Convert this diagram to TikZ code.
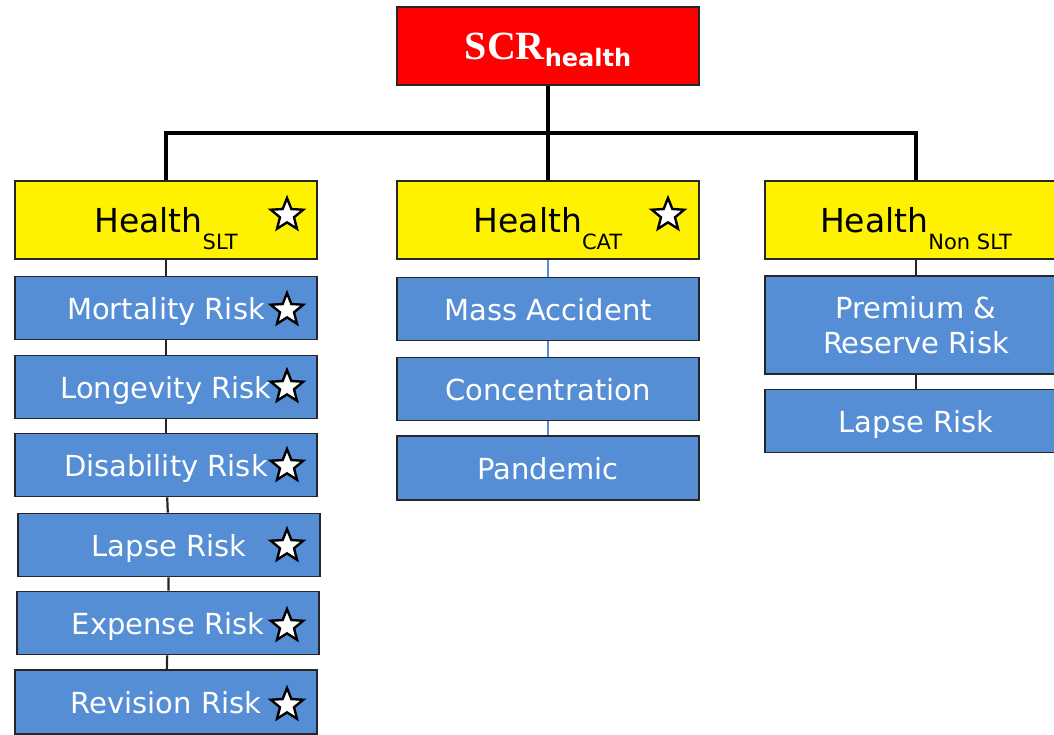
\documentclass[tikz,border=0pt]{standalone}
\usepackage{fontspec}
\setmainfont{DejaVu Sans}
\newfontfamily\titlefont{Liberation Serif}
\usepackage{tikz}
\usetikzlibrary{shapes.geometric}
\definecolor{riskblue}{RGB}{85,142,213}
\newcommand{\sub}[1]{\raisebox{-0.5em}{\fontsize{21}{21}\selectfont #1}}

\begin{document}
\begin{tikzpicture}[x=1pt, y=-1pt]
	\tikzset{box/.style = {shape=rectangle, draw=black!85, line width=1.8pt, minimum width=302pt, minimum height=63pt, inner sep=0pt}}
	\tikzset{root/.style = {box, fill=red, minimum height=78pt, text=white, text depth=0pt}}
	\tikzset{head/.style = {box, fill=yellow, minimum height=78pt, text depth=0pt, font=\fontsize{33}{36}\selectfont}}
	\tikzset{risk/.style = {box, fill=riskblue, text=white, text depth=0pt, font=\fontsize{29}{35}\selectfont, align=center}}
	\tikzset{starmark/.style = {shape=star, star points=5, star point ratio=2.3, draw=black, fill=white, line width=2.4pt, minimum size=34pt, inner sep=0pt}}
	\tikzset{tree/.style = {draw=black, line width=4pt}}
	\tikzset{link/.style = {draw=black!85, line width=2.2pt}}
	\tikzset{bluelink/.style = {draw=riskblue, line width=1.8pt}}
	\useasboundingbox (0,0) rectangle (1054,734);
	\clip (0,0) rectangle (1054,734);
	\node[root] (scr) at (548,46) {{\titlefont\bfseries\fontsize{40}{40}\selectfont SCR}\raisebox{-0.7em}{\bfseries\fontsize{24}{24}\selectfont health}};
	\coordinate (bus) at (548,133);
	\node[head] (hslt) at (166,220) {Health\sub{SLT}};
	\node[head] (hcat) at (548,220) {Health\sub{CAT}};
	\node[head] (hnon) at (916,220) {Health\sub{Non SLT}};
	\node[risk] (mort) at (166,308) {Mortality Risk};
	\node[risk] (long) at (166,387) {Longevity Risk};
	\node[risk] (dis) at (166,465) {Disability Risk};
	\node[risk] (lapse) at (169,545) {Lapse Risk};
	\node[risk] (exp) at (168,623) {Expense Risk};
	\node[risk, minimum height=64pt] (rev) at (166,702) {Revision Risk};
	\node[risk] (mass) at (548,309) {Mass Accident};
	\node[risk] (conc) at (548,389) {Concentration};
	\node[risk, minimum height=64pt] (pand) at (548,468) {Pandemic};
	\node[risk, minimum height=98pt] (prem) at (916,325) {Premium \&\\Reserve Risk};
	\node[risk] (nlapse) at (916,421) {Lapse Risk};
	\draw[tree] (scr.south) -- (bus);
	\draw[tree] (hslt.north) |- (bus) -| (hnon.north);
	\draw[tree] (bus) -- (hcat.north);
	\draw[link] (hslt) -- (mort);
	\draw[link] (mort) -- (long);
	\draw[link] (long) -- (dis);
	\draw[link] (dis) -- (lapse);
	\draw[link] (lapse) -- (exp);
	\draw[link] (exp) -- (rev);
	\draw[bluelink] (hcat) -- (mass);
	\draw[bluelink] (mass) -- (conc);
	\draw[bluelink] (conc) -- (pand);
	\draw[link] (hnon) -- (prem);
	\draw[link] (prem) -- (nlapse);
	\node[starmark] (s1) at (287,215) {};
	\node[starmark] (s2) at (668,215) {};
	\node[starmark] (s3) at (287,310) {};
	\node[starmark] (s4) at (287,387) {};
	\node[starmark] (s5) at (287,466) {};
	\node[starmark] (s6) at (287,546) {};
	\node[starmark] (s7) at (287,626) {};
	\node[starmark] (s8) at (287,705) {};
\end{tikzpicture}
\end{document}
